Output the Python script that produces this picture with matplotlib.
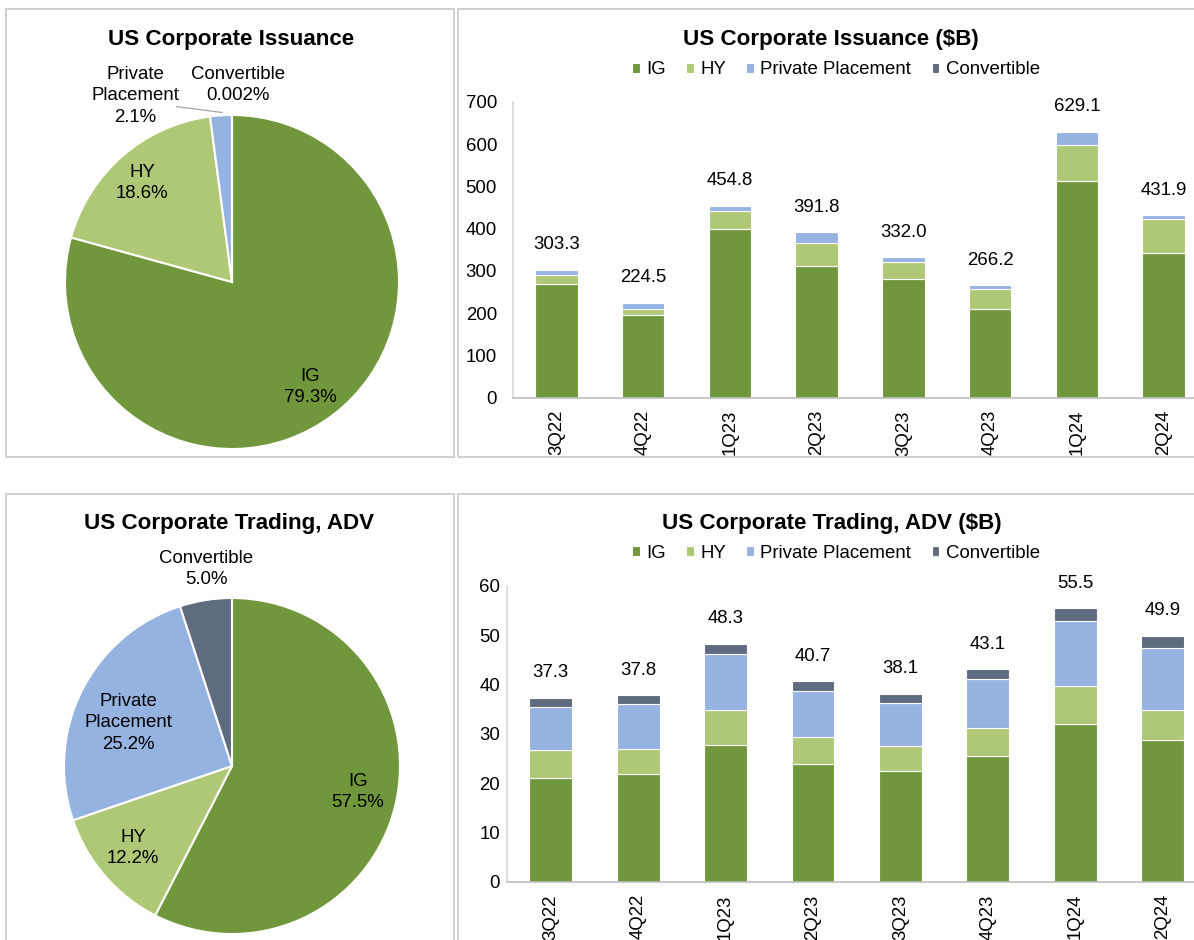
import matplotlib
matplotlib.use("Agg")
import numpy as np
from matplotlib import pyplot as plt
from matplotlib.patches import Rectangle

plt.rcParams["font.family"] = ["Liberation Sans", "DejaVu Sans"]

# data
quarters = ["3Q22", "4Q22", "1Q23", "2Q23", "3Q23", "4Q23", "1Q24", "2Q24"]
series = ["IG", "HY", "Private Placement", "Convertible"]

iss_ig = [270.0, 195.0, 399.6, 310.5, 279.7, 210.4, 514.0, 342.5]
iss_hy = [20.8, 15.5, 41.4, 55.1, 41.0, 45.6, 84.0, 80.3]
iss_pp = [11.5, 14.0, 13.8, 26.2, 11.3, 10.2, 31.1, 9.1]
iss_cv = [1.0, 0.0, 0.0, 0.0, 0.0, 0.0, 0.0, 0.0]
iss_total = [303.3, 224.5, 454.8, 391.8, 332.0, 266.2, 629.1, 431.9]

trd_ig = [21.0, 21.8, 27.7, 23.9, 22.4, 25.5, 32.1, 28.7]
trd_hy = [5.7, 5.2, 7.1, 5.5, 5.2, 5.6, 7.6, 6.1]
trd_pp = [8.8, 9.1, 11.4, 9.3, 8.6, 10.0, 13.2, 12.6]
trd_cv = [1.8, 1.7, 2.1, 2.0, 1.9, 2.0, 2.6, 2.5]
trd_total = [37.3, 37.8, 48.3, 40.7, 38.1, 43.1, 55.5, 49.9]

iss_share = [79.3, 18.6, 2.1, 0.002]
trd_share = [57.5, 12.2, 25.2, 5.0]

colors = ["#71973D", "#AFC876", "#94B3E0", "#5F6B7E"]

W, H = 1194, 940
FS = 13.4
TFS = 16.1

fig = plt.figure(figsize=(W / 100, H / 100), dpi=100)


def px_axes(x0, y0, x1, y1):
    """Axes from pixel box (top-left origin)."""
    return fig.add_axes([x0 / W, 1 - y1 / H, (x1 - x0) / W, (y1 - y0) / H])


def panel(x0, y0, x1, y1):
    fig.patches.append(Rectangle((x0 / W, 1 - y1 / H), (x1 - x0) / W, (y1 - y0) / H,
                                 transform=fig.transFigure, fill=False,
                                 edgecolor="#CFCFCF", linewidth=1.4))


def pct(v):
    return f"{v:.3f}%" if v < 0.1 else f"{v:.1f}%"


panel(6, 9, 454, 457.5)
panel(457.5, 9, 1210, 457.5)
panel(6, 494, 454, 960)
panel(457.5, 494, 1210, 960)


def draw_pie(cx, cy, r, shares, label_pos, title, title_xy, leader=None):
    ax = px_axes(cx - r, cy - r, cx + r, cy + r)
    ax.pie(shares, colors=colors, startangle=90, counterclock=False,
           wedgeprops=dict(edgecolor="white", linewidth=1.5))
    ax.set_xlim(-1, 1)
    ax.set_ylim(-1, 1)
    ax.set_aspect("auto")
    ax.axis("off")
    for name, v, (dx, dy) in zip(series, shares, label_pos):
        ax.text(dx, dy, f"{name.replace(' ', chr(10))}\n{pct(v)}", ha="center",
                va="center", fontsize=FS, linespacing=1.35, clip_on=False)
    if leader is not None:
        ax.plot(leader[0], leader[1], color="#A6A6A6", lw=0.9, clip_on=False)
    fig.text(title_xy[0] / W, 1 - title_xy[1] / H, title, ha="center", va="center",
             fontsize=TFS, fontweight="bold")


draw_pie(232, 282, 167, iss_share,
         [(0.467, -0.629), (-0.539, 0.593), (-0.581, 1.114), (0.036, 1.18)],
         "US Corporate Issuance", (231, 39),
         leader=([-0.33, -0.06], [1.05, 1.015]))
draw_pie(232, 766, 168, trd_share,
         [(0.75, -0.155), (-0.589, -0.488), (-0.619, 0.256), (-0.155, 1.173)],
         "US Corporate Trading, ADV", (229, 523))


def draw_bars(box, stacks, totals, ymax, ystep, ypad, title, title_xy, leg_xy):
    ax = px_axes(*box)
    x = np.arange(len(quarters))
    bottom = np.zeros(len(quarters))
    for name, vals, c in zip(series, stacks, colors):
        ax.bar(x, vals, width=0.49, bottom=bottom, color=c, edgecolor="white",
               linewidth=0.8, label=name)
        bottom += np.array(vals)
    for xi, b, t in zip(x, bottom, totals):
        ax.annotate(f"{t:.1f}", (xi, b), xytext=(0, 25), textcoords="offset pixels",
                    ha="center", va="center", fontsize=FS)
    ax.set_xlim(-0.5, len(quarters) - 0.5)
    ax.set_ylim(0, ymax)
    ax.set_yticks(np.arange(0, ymax + 1, ystep))
    ax.set_xticks(x)
    ax.set_xticklabels(quarters, rotation=90, va="top")
    ax.tick_params(axis="both", length=0, labelsize=FS)
    ax.tick_params(axis="y", pad=ypad)
    ax.tick_params(axis="x", pad=9)
    for s in ["top", "right"]:
        ax.spines[s].set_visible(False)
    ax.spines["left"].set_color("#D9D9D9")
    ax.spines["bottom"].set_color("#BFBFBF")
    ax.spines["left"].set_linewidth(1.2)
    ax.spines["bottom"].set_linewidth(1.2)
    ax.legend(loc="center", bbox_to_anchor=(leg_xy[0] / W, 1 - leg_xy[1] / H),
              bbox_transform=fig.transFigure, ncol=4, frameon=False, fontsize=FS,
              handlelength=0.4, handleheight=0.4, handletextpad=0.35,
              columnspacing=1.1)
    fig.text(title_xy[0] / W, 1 - title_xy[1] / H, title, ha="center", va="center",
             fontsize=TFS, fontweight="bold")


draw_bars((513, 102, 1207, 397.5), [iss_ig, iss_hy, iss_pp, iss_cv], iss_total,
          700, 100, 11.5, "US Corporate Issuance ($B)", (831, 40), (836, 70))
draw_bars((507, 586, 1206.4, 881.7), [trd_ig, trd_hy, trd_pp, trd_cv], trd_total,
          60, 10, 5, "US Corporate Trading, ADV ($B)", (832, 523), (836, 553))

fig.savefig("out.png", dpi=100)
